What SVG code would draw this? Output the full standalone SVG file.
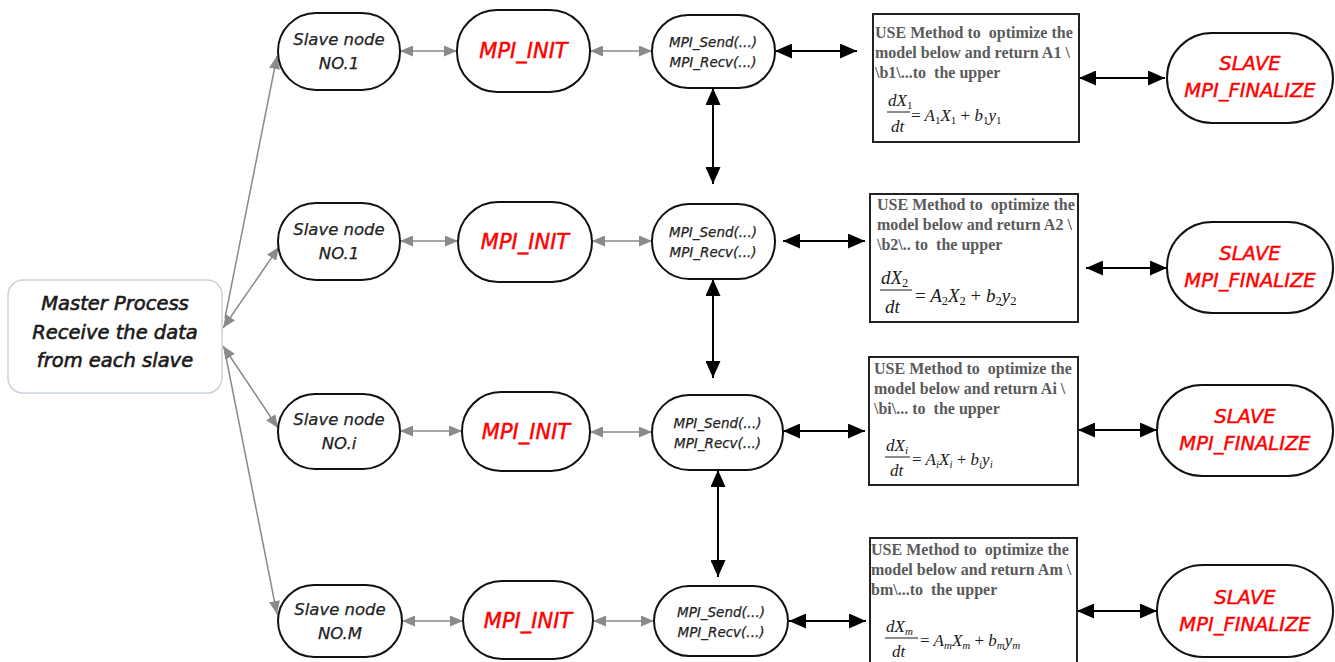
<svg xmlns="http://www.w3.org/2000/svg" width="1335" height="662" viewBox="0 0 1335 662">
<style>
.node{fill:#fff;stroke:#111;stroke-width:2}
.master{fill:#fff;stroke:#c9d2db;stroke-width:1.5}
.lbl{font-family:"DejaVu Sans",Verdana,sans-serif;font-style:italic;fill:#222;text-anchor:middle;stroke:#222;stroke-width:0.25}
.mt{stroke:#1a1a1a;stroke-width:0.6;fill:#1a1a1a}
.red{fill:#ff0000;stroke:#ff0000;stroke-width:0.45}
.box{fill:#fff;stroke:#222;stroke-width:2}
.bt{font-family:"Liberation Serif","Times New Roman",serif;font-weight:bold;font-size:16px;fill:#5a5a5a;white-space:pre}
.eq{font-family:"Liberation Serif","Times New Roman",serif;font-style:italic;fill:#1a1a1a}
.eq .n{font-style:normal}
.g{stroke:#8a8a8a;stroke-width:1.5;fill:none;marker-end:url(#ga);}
.gg{stroke:#8a8a8a;stroke-width:1.5;fill:none;marker-start:url(#ga);marker-end:url(#ga)}
.bb{stroke:#000;stroke-width:2;fill:none;marker-start:url(#ba);marker-end:url(#ba)}
</style>
<defs>
<marker id="ga" markerUnits="userSpaceOnUse" markerWidth="13" markerHeight="11" refX="13" refY="5.5" orient="auto-start-reverse"><path d="M0,0 L13,5.5 L0,11 z" fill="#8a8a8a"/></marker>
<marker id="ba" markerUnits="userSpaceOnUse" markerWidth="17" markerHeight="15" refX="17" refY="7.5" orient="auto-start-reverse"><path d="M0,0 L17,7.5 L0,15 z" fill="#000"/></marker>
</defs>
<rect width="1335" height="662" fill="#fff"/>

<g id="connectors">
<line class="g" x1="225" y1="318" x2="277" y2="56"/>
<line class="gg" x1="223" y1="328" x2="279" y2="247"/>
<line class="gg" x1="223" y1="346" x2="278" y2="428"/>
<line class="g" x1="225" y1="352" x2="277" y2="614"/>

<line class="gg" x1="400" y1="51" x2="457" y2="51"/>
<line class="gg" x1="590" y1="51" x2="652" y2="51"/>
<line class="gg" x1="400" y1="241" x2="458" y2="241"/>
<line class="gg" x1="592" y1="241" x2="652" y2="241"/>
<line class="gg" x1="400" y1="431" x2="462" y2="431"/>
<line class="gg" x1="590" y1="432" x2="652" y2="432"/>
<line class="gg" x1="402" y1="621" x2="463" y2="621"/>
<line class="gg" x1="593" y1="621" x2="654" y2="621"/>

<line class="bb" x1="775" y1="51" x2="857" y2="51"/>
<line class="bb" x1="1079" y1="78" x2="1165" y2="78"/>
<line class="bb" x1="783" y1="241" x2="865" y2="241"/>
<line class="bb" x1="1086" y1="268" x2="1167" y2="268"/>
<line class="bb" x1="783" y1="431" x2="865" y2="431"/>
<line class="bb" x1="1078" y1="430" x2="1157" y2="430"/>
<line class="bb" x1="789" y1="621" x2="866" y2="621"/>
<line class="bb" x1="1077" y1="611" x2="1157" y2="611"/>

<line class="bb" x1="713" y1="88" x2="713" y2="184"/>
<line class="bb" x1="713" y1="279" x2="713" y2="378"/>
<line class="bb" x1="718" y1="470" x2="718" y2="577"/>
</g>

<g id="master">
<rect class="master" x="8" y="280" width="214" height="113" rx="15"/>
<text class="lbl mt" font-size="19.5" x="115" y="310">Master Process</text>
<text class="lbl mt" font-size="19.5" x="115" y="339">Receive the data</text>
<text class="lbl mt" font-size="19.5" x="115" y="367">from each slave</text>
</g>

<!-- Row 1 -->
<g id="slave1">
<rect class="node" x="278" y="13" width="122" height="77" rx="38"/>
<text class="lbl" font-size="16.5" x="339" y="45">Slave node</text>
<text class="lbl" font-size="16.5" x="339" y="69">NO.1</text>
</g>
<g id="init1">
<rect class="node" x="457" y="10" width="133" height="82" rx="40"/>
<text class="lbl red" font-size="21" x="523.5" y="58">MPI_INIT</text>
</g>
<g id="comm1">
<rect class="node" x="652" y="15" width="123" height="73" rx="36"/>
<text class="lbl" font-size="13.5" x="713" y="47">MPI_Send(...)</text>
<text class="lbl" font-size="13.5" x="713" y="67">MPI_Recv(...)</text>
</g>
<g id="box1">
<rect class="box" x="873" y="14" width="206" height="128"/>
<text class="bt" x="875" y="38">USE Method to  optimize the</text>
<text class="bt" x="875" y="58">model below and return A1 \</text>
<text class="bt" x="875" y="78">\b1\...to  the upper</text>
<text class="eq" font-size="17" x="888" y="106">dX<tspan class="n" font-size="11" dy="3">1</tspan></text>
<line x1="887" y1="112" x2="910" y2="112" stroke="#1a1a1a" stroke-width="1"/>
<text class="eq" font-size="17" x="891" y="132">dt</text>
<text class="eq" font-size="17" x="911" y="121"><tspan class="n">=</tspan> A<tspan class="n" font-size="11" dy="3">1</tspan><tspan dy="-3">X</tspan><tspan class="n" font-size="11" dy="3">1</tspan><tspan class="n" dy="-3"> + </tspan>b<tspan class="n" font-size="11" dy="3">1</tspan><tspan dy="-3">y</tspan><tspan class="n" font-size="11" dy="3">1</tspan></text>
</g>
<g id="fin1">
<rect class="node" x="1167" y="33" width="166" height="90" rx="45"/>
<text class="lbl red" font-size="19.5" x="1250" y="70">SLAVE</text>
<text class="lbl red" font-size="19.5" x="1250" y="97">MPI_FINALIZE</text>
</g>

<!-- Row 2 -->
<g id="slave2">
<rect class="node" x="278" y="203" width="122" height="77" rx="38"/>
<text class="lbl" font-size="16.5" x="339" y="235">Slave node</text>
<text class="lbl" font-size="16.5" x="339" y="259">NO.1</text>
</g>
<g id="init2">
<rect class="node" x="458" y="202" width="134" height="80" rx="40"/>
<text class="lbl red" font-size="21" x="525" y="249">MPI_INIT</text>
</g>
<g id="comm2">
<rect class="node" x="652" y="204" width="123" height="75" rx="37"/>
<text class="lbl" font-size="13.5" x="713" y="237">MPI_Send(...)</text>
<text class="lbl" font-size="13.5" x="713" y="257">MPI_Recv(...)</text>
</g>
<g id="box2">
<rect class="box" x="870" y="194" width="208" height="128"/>
<text class="bt" x="877" y="210">USE Method to  optimize the</text>
<text class="bt" x="877" y="230">model below and return A2 \</text>
<text class="bt" x="877" y="250">\b2\.. to  the upper</text>
<text class="eq" font-size="19" x="881" y="284">dX<tspan class="n" font-size="12.5" dy="3">2</tspan></text>
<line x1="880" y1="290" x2="912" y2="290" stroke="#1a1a1a" stroke-width="1"/>
<text class="eq" font-size="19" x="885" y="313">dt</text>
<text class="eq" font-size="19" x="915" y="302"><tspan class="n">=</tspan> A<tspan class="n" font-size="12.5" dy="3">2</tspan><tspan dy="-3">X</tspan><tspan class="n" font-size="12.5" dy="3">2</tspan><tspan class="n" dy="-3"> + </tspan>b<tspan class="n" font-size="12.5" dy="3">2</tspan><tspan dy="-3">y</tspan><tspan class="n" font-size="12.5" dy="3">2</tspan></text>
</g>
<g id="fin2">
<rect class="node" x="1167" y="222" width="166" height="91" rx="45"/>
<text class="lbl red" font-size="19.5" x="1250" y="260">SLAVE</text>
<text class="lbl red" font-size="19.5" x="1250" y="287">MPI_FINALIZE</text>
</g>

<!-- Row 3 -->
<g id="slave3">
<rect class="node" x="278" y="394" width="122" height="75" rx="37"/>
<text class="lbl" font-size="16.5" x="339" y="425">Slave node</text>
<text class="lbl" font-size="16.5" x="339" y="449">NO.i</text>
</g>
<g id="init3">
<rect class="node" x="462" y="392" width="128" height="79" rx="39"/>
<text class="lbl red" font-size="21" x="526" y="439">MPI_INIT</text>
</g>
<g id="comm3">
<rect class="node" x="652" y="395" width="131" height="75" rx="37"/>
<text class="lbl" font-size="13.5" x="717.5" y="428">MPI_Send(...)</text>
<text class="lbl" font-size="13.5" x="717.5" y="448">MPI_Recv(...)</text>
</g>
<g id="box3">
<rect class="box" x="869" y="357" width="209" height="128"/>
<text class="bt" x="874" y="374">USE Method to  optimize the</text>
<text class="bt" x="874" y="394">model below and return Ai \</text>
<text class="bt" x="874" y="414">\bi\... to  the upper</text>
<text class="eq" font-size="17" x="886" y="451">dX<tspan font-size="11" dy="3">i</tspan></text>
<line x1="885" y1="457" x2="910" y2="457" stroke="#1a1a1a" stroke-width="1"/>
<text class="eq" font-size="17" x="890" y="476">dt</text>
<text class="eq" font-size="17" x="912" y="465"><tspan class="n">=</tspan> A<tspan font-size="11" dy="3">i</tspan><tspan dy="-3">X</tspan><tspan font-size="11" dy="3">i</tspan><tspan class="n" dy="-3"> + </tspan>b<tspan font-size="11" dy="3">i</tspan><tspan dy="-3">y</tspan><tspan font-size="11" dy="3">i</tspan></text>
</g>
<g id="fin3">
<rect class="node" x="1157" y="385" width="176" height="91" rx="45"/>
<text class="lbl red" font-size="19.5" x="1245" y="423">SLAVE</text>
<text class="lbl red" font-size="19.5" x="1245" y="450">MPI_FINALIZE</text>
</g>

<!-- Row 4 -->
<g id="slave4">
<rect class="node" x="278" y="585" width="124" height="72" rx="36"/>
<text class="lbl" font-size="16.5" x="340" y="615">Slave node</text>
<text class="lbl" font-size="16.5" x="340" y="639">NO.M</text>
</g>
<g id="init4">
<rect class="node" x="463" y="581" width="130" height="78" rx="39"/>
<text class="lbl red" font-size="21" x="528" y="628">MPI_INIT</text>
</g>
<g id="comm4">
<rect class="node" x="654" y="586" width="134" height="70" rx="35"/>
<text class="lbl" font-size="13.5" x="721" y="617">MPI_Send(...)</text>
<text class="lbl" font-size="13.5" x="721" y="637">MPI_Recv(...)</text>
</g>
<g id="box4">
<rect class="box" x="870" y="538" width="207" height="132"/>
<text class="bt" x="871" y="555">USE Method to  optimize the</text>
<text class="bt" x="871" y="575">model below and return Am \</text>
<text class="bt" x="871" y="595">bm\...to  the upper</text>
<text class="eq" font-size="17" x="886" y="632">dX<tspan font-size="11" dy="3">m</tspan></text>
<line x1="885" y1="638" x2="918" y2="638" stroke="#1a1a1a" stroke-width="1"/>
<text class="eq" font-size="17" x="892" y="657">dt</text>
<text class="eq" font-size="17" x="920" y="646"><tspan class="n">=</tspan> A<tspan font-size="11" dy="3">m</tspan><tspan dy="-3">X</tspan><tspan font-size="11" dy="3">m</tspan><tspan class="n" dy="-3"> + </tspan>b<tspan font-size="11" dy="3">m</tspan><tspan dy="-3">y</tspan><tspan font-size="11" dy="3">m</tspan></text>
</g>
<g id="fin4">
<rect class="node" x="1157" y="565" width="176" height="92" rx="46"/>
<text class="lbl red" font-size="19.5" x="1245" y="604">SLAVE</text>
<text class="lbl red" font-size="19.5" x="1245" y="631">MPI_FINALIZE</text>
</g>
</svg>
